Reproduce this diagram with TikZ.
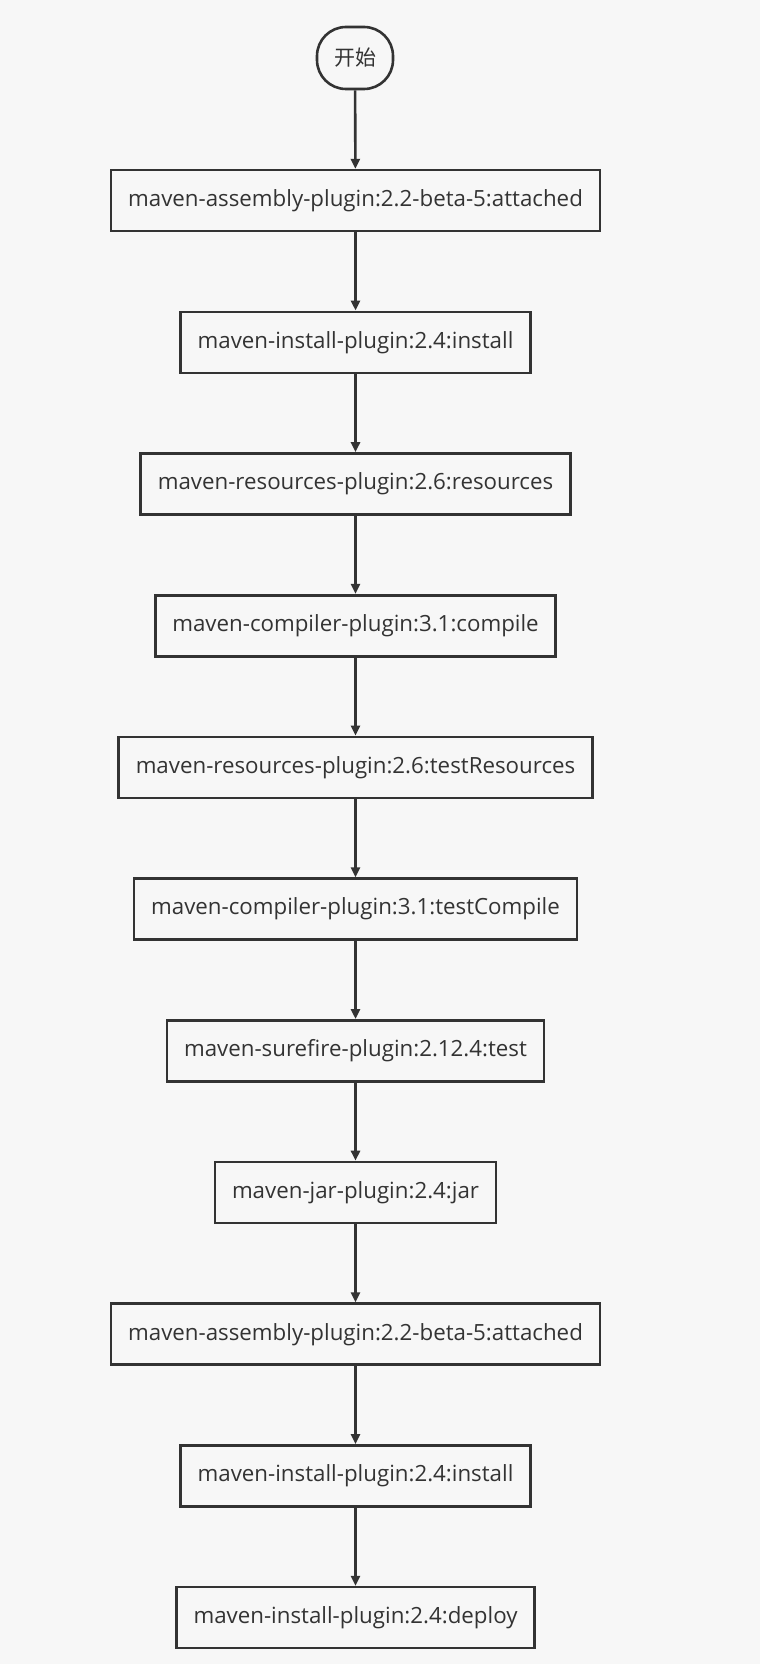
\documentclass[tikz,border=0pt]{standalone}
\usepackage{fontspec}
\setmainfont{Open Sans}
\newfontfamily\cjk{Noto Sans CJK SC}
\usetikzlibrary{arrows.meta}
\definecolor{bg}{HTML}{F7F7F7}
\definecolor{ink}{HTML}{333333}
\tikzset{
	plugin box/.style={draw=ink, line width=2.6pt, fill=bg, text=ink,
		minimum height=61pt, inner xsep=17pt,
		font=\fontsize{22.3}{26}\selectfont},
	start box/.style={draw=ink, line width=2.6pt, fill=bg, text=ink,
		rounded corners=29pt, minimum width=76pt, minimum height=62pt,
		font=\cjk\fontsize{21}{25}\selectfont}
}
\begin{document}
\begin{tikzpicture}[x=1pt, y=-1pt, >={Triangle[length=10pt,width=9pt]}]
	\fill [bg] (0,0) rectangle (760,1664);
	\useasboundingbox (0,0) rectangle (760,1664);

	\node [start box] (start) at (355,58) {开始};

	\foreach \m [count=\y] in {maven-assembly-plugin:2.2-beta-5:attached,
		maven-install-plugin:2.4:install,
		maven-resources-plugin:2.6:resources,
		maven-compiler-plugin:3.1:compile,
		maven-resources-plugin:2.6:testResources,
		maven-compiler-plugin:3.1:testCompile,
		maven-surefire-plugin:2.12.4:test,
		maven-jar-plugin:2.4:jar,
		maven-assembly-plugin:2.2-beta-5:attached,
		maven-install-plugin:2.4:install,
		maven-install-plugin:2.4:deploy}
	\node [plugin box] (plugin-\y) at (355.5,{200.6+141.7*(\y-1)}) {\m};

	\draw [->, ink, line width=2.6pt] (start) -- (plugin-1);

	\foreach \i [count=\j from 2] in {1,...,10}
	\draw [->, ink, line width=2.6pt] (plugin-\i) -- (plugin-\j);
\end{tikzpicture}
\end{document}
